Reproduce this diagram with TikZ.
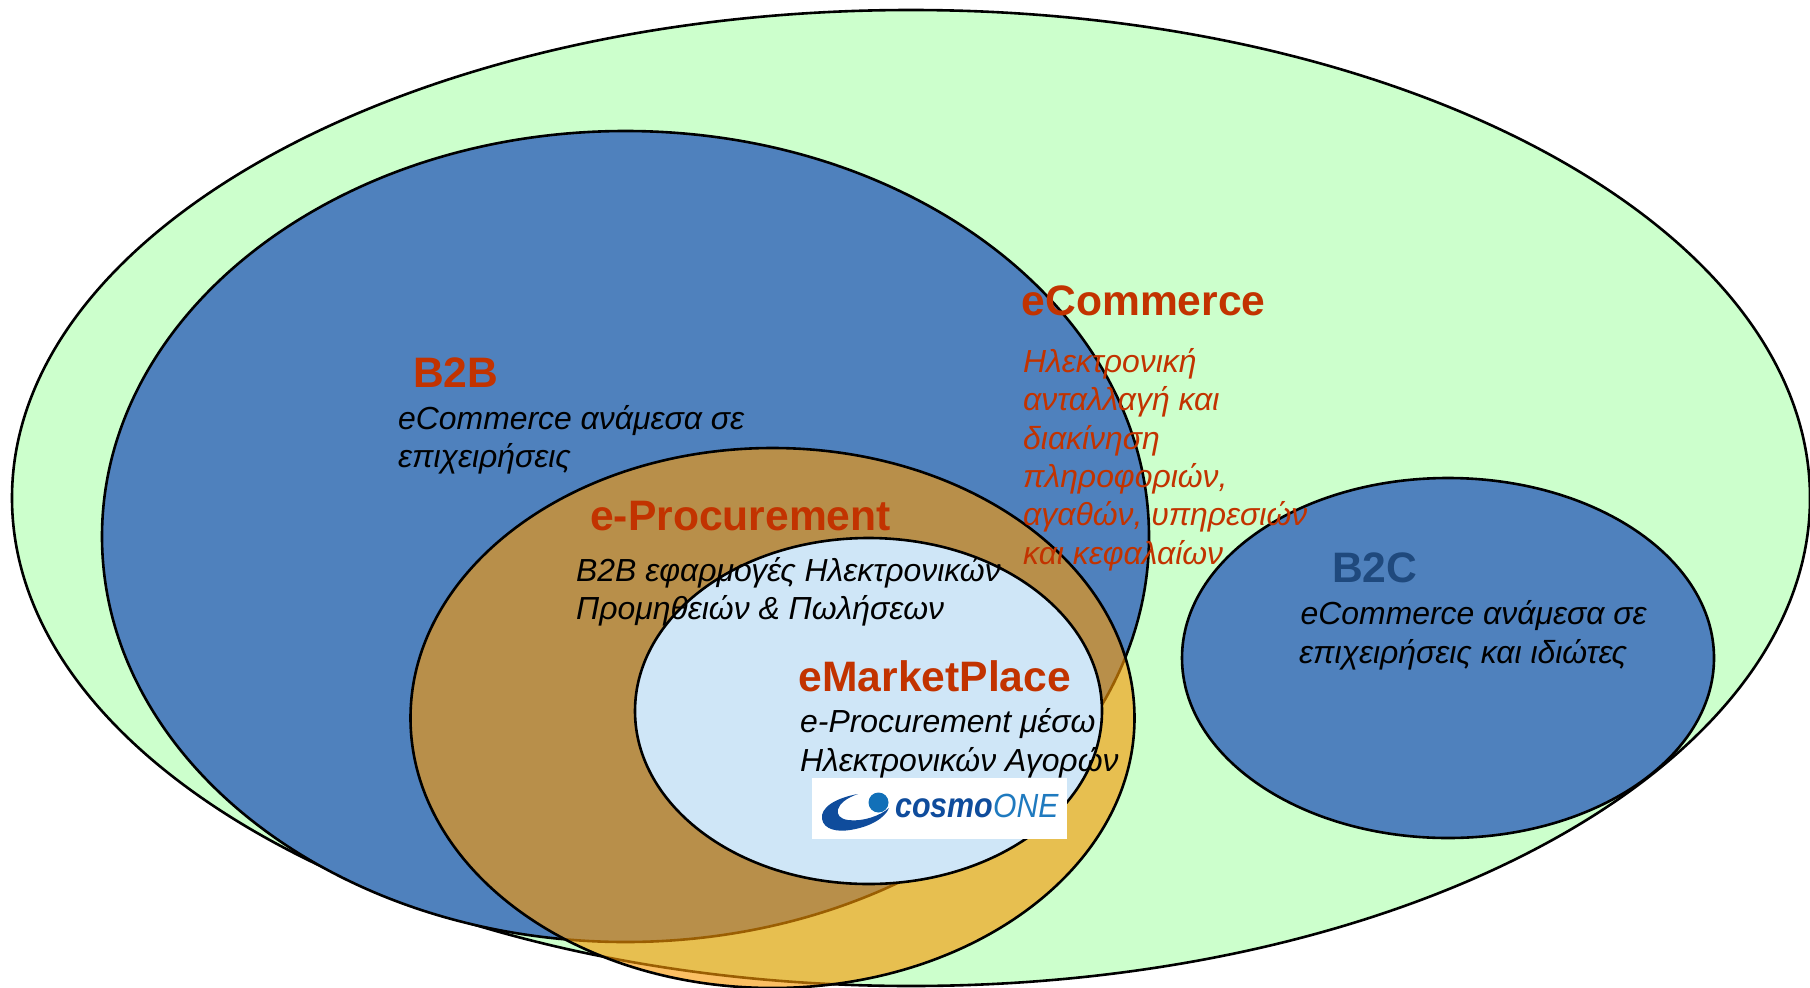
\documentclass[tikz,border=0pt]{standalone}
\usepackage{fontspec}
\setmainfont{Liberation Sans}
\usetikzlibrary{shapes.geometric}
\definecolor{redtxt}{HTML}{C23300}
\definecolor{navytxt}{HTML}{1F497D}
\definecolor{greenfill}{HTML}{CCFFCC}
\definecolor{bluefill}{HTML}{4F81BD}
\definecolor{orangefill}{HTML}{F99804}
\definecolor{skyfill}{HTML}{CFE6F7}
\definecolor{logodark}{HTML}{0F4C9C}
\definecolor{logolight}{HTML}{1F7ABF}
\definecolor{logodot}{HTML}{1270B8}
\tikzset{
  set/.style={ellipse,draw=black,line width=2.6pt,inner sep=0pt,outer sep=0pt},
  head/.style={anchor=base west,inner sep=0pt,font=\fontsize{42.6}{48}\selectfont\bfseries,text=redtxt},
  body/.style={anchor=base west,inner sep=0pt,font=\fontsize{31.9}{38}\selectfont\itshape,text=black},
  bodyred/.style={body,text=redtxt}
}
\begin{document}
\begin{tikzpicture}[x=1pt,y=-1pt]
\useasboundingbox (0,0) rectangle (1810,988);
\clip (0,0) rectangle (1810,988);
\node[set,fill=greenfill,minimum width=1798pt,minimum height=976pt] (ecom) at (911,498) {};
\node[set,fill=bluefill,minimum width=1047pt,minimum height=811pt] (btob) at (625.5,536.5) {};
\node[set,fill=bluefill,minimum width=532pt,minimum height=360pt] (btoc) at (1448,658) {};
\node[set,fill=orangefill,fill opacity=.62,minimum width=724pt,minimum height=540pt] (eproc) at (772.5,718) {};
\node[set,fill=skyfill,minimum width=467pt,minimum height=346pt] (emkt) at (868.5,711) {};

\node[head] (t1) at (1021.5,315) {eCommerce};
\node[bodyred] (t1a) at (1023,372) {Ηλεκτρονική};
\node[bodyred] (t1b) at (1023,410) {ανταλλαγή και};
\node[bodyred] (t1c) at (1023,449) {διακίνηση};
\node[bodyred] (t1d) at (1023,487) {πληροφοριών,};
\node[bodyred] (t1e) at (1023,525) {αγαθών, υπηρεσιών};
\node[bodyred] (t1f) at (1023,564) {και κεφαλαίων};

\node[head] (t2) at (413,387) {B2B};
\node[body] (t2a) at (398,429) {eCommerce ανάμεσα σε};
\node[body] (t2b) at (398,467) {επιχειρήσεις};

\node[head] (t3) at (590,530) {e-Procurement};
\node[body] (t3a) at (576,581) {B2B εφαρμογές Ηλεκτρονικών};
\node[body] (t3b) at (576,619) {Προμηθειών \& Πωλήσεων};

\node[head] (t4) at (798.5,691) {eMarketPlace};
\node[body] (t4a) at (800,732) {e-Procurement μέσω};
\node[body] (t4b) at (800,771) {Ηλεκτρονικών Αγορών};

\node[head,text=navytxt] (t5) at (1332,582) {B2C};
\node[body] (t5a) at (1300.5,624) {eCommerce ανάμεσα σε};
\node[body] (t5b) at (1299,663) {επιχειρήσεις και ιδιώτες};

\node[fill=white,draw=none,inner sep=0pt,outer sep=0pt,minimum width=255pt,minimum height=61pt] (logo) at (939.5,808.5) {};
\fill[logodark] (858,794) .. controls (835,798) and (820,808) .. (822,819) .. controls (824,830) and (838,832) .. (850,830) .. controls (870,827) and (885,818) .. (889,808) .. controls (880,816) and (862,822) .. (848,820) .. controls (832,818) and (834,802) .. (858,794) -- cycle;
\node[circle,fill=logodot,inner sep=0pt,minimum size=20pt] (logodisc) at (878.5,802.5) {};
\node[anchor=base west,inner sep=0pt,xscale=.87,font=\fontsize{35}{38}\selectfont\bfseries\itshape,text=logodark] (cosmo) at (895,817) {cosmo};
\node[anchor=base west,inner sep=0pt,xscale=.9,font=\fontsize{33.5}{36}\selectfont\itshape,text=logolight] (one) at (993,817) {ONE};
\end{tikzpicture}
\end{document}
